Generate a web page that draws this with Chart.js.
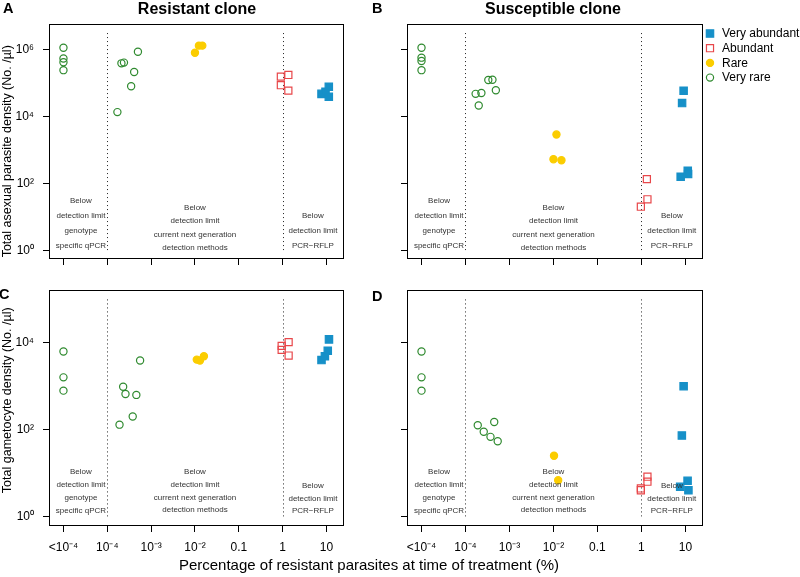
<!DOCTYPE html>
<html>
<head>
<meta charset="utf-8">
<script src="https://cdn.jsdelivr.net/npm/chart.js@4.4.0/dist/chart.umd.min.js"></script>
<style>
  body { margin: 0; background: #fff; }
  #wrap { position: relative; width: 800px; height: 577px; overflow: hidden; font-family: 'Liberation Sans', Arial, sans-serif; }
  canvas { position: absolute; }
  .lbl { position: absolute; white-space: nowrap; color: #000; line-height: 1; }
  .letter { font-weight: bold; font-size: 14.5px; }
  .coltitle { font-weight: bold; font-size: 16px; width: 300px; text-align: center; }
  .ytitle { font-size: 12.5px; width: 300px; text-align: center; transform: rotate(-90deg); }
  .xtitle { font-size: 15px; width: 500px; text-align: center; }
</style>
</head>
<body>
<div id="wrap">
  <canvas id="panelA" width="400" height="280" style="left:0;top:0"></canvas>
  <canvas id="panelB" width="400" height="280" style="left:400px;top:0"></canvas>
  <canvas id="panelC" width="400" height="297" style="left:0;top:280px"></canvas>
  <canvas id="panelD" width="400" height="297" style="left:400px;top:280px"></canvas>

  <div class="lbl letter" style="left:3px;top:1px">A</div>
  <div class="lbl letter" style="left:372px;top:1px">B</div>
  <div class="lbl letter" style="left:-1px;top:287px">C</div>
  <div class="lbl letter" style="left:372px;top:289px">D</div>
  <div class="lbl coltitle" style="left:47px;top:1px">Resistant clone</div>
  <div class="lbl coltitle" style="left:403px;top:1px">Susceptible clone</div>
  <div class="lbl ytitle" style="left:-143px;top:145px">Total asexual parasite density (No. /µl)</div>
  <div class="lbl ytitle" style="left:-143px;top:394px">Total gametocyte density (No. /µl)</div>
  <div class="lbl xtitle" style="left:119px;top:557px">Percentage of resistant parasites at time of treatment (%)</div>
</div>

<script>
// axis ticks
const xTicks = [1e-5, 1e-4, 1e-3, 1e-2, 0.1, 1, 10];
const xTickLabels = ['<10⁻⁴', '10⁻⁴', '10⁻³', '10⁻²', '0.1', '1', '10'];
const asexualTicks = [1, 1e2, 1e4, 1e6];
const gametocyteTicks = [1, 1e2, 1e4];
const yTickLabels = { 1: '10⁰', 100: '10²', 10000: '10⁴', 1000000: '10⁶' };

const groupNames = ['Very abundant', 'Abundant', 'Rare', 'Very rare'];

// detection limit dividers and the notes under them
const detectionLimits = [1e-4, 1];
const noteX = [2.5e-5, 1e-2, 4.9];
const noteLines = [
  ['Below', 'detection limit', 'genotype', 'specific qPCR'],
  ['Below', 'detection limit', 'current next generation', 'detection methods'],
  ['Below', 'detection limit', 'PCR\u2212RFLP']
];

// A: asexual density, resistant clone  [percentage, density]
const asexResVeryAbundant = [[7.7, 4.9e4], [9.5, 5.7e4], [11.3, 8.0e4], [11.3, 4.0e4]];
const asexResAbundant = [[0.91, 1.6e5], [0.91, 8.9e4], [1.35, 1.8e5], [1.35, 6.1e4]];
const asexResRare = [[1.0e-2, 8.3e5], [1.23e-2, 1.35e6], [1.47e-2, 1.35e6]];
const asexResVeryRare = [[1e-5, 1.17e6], [1e-5, 5.6e5], [1e-5, 4.3e5], [1e-5, 2.5e5],
  [1.7e-4, 1.4e4], [2.1e-4, 4.0e5], [2.4e-4, 4.2e5], [3.5e-4, 8.3e4], [4.1e-4, 2.2e5], [5.0e-4, 8.9e5]];

// B: asexual density, susceptible clone
const asexSusVeryAbundant = [[9.1, 6.1e4], [8.4, 2.6e4], [7.8, 165], [11.3, 250], [11.5, 200]];
const asexSusAbundant = [[0.97, 21], [1.37, 35], [1.33, 140]];
const asexSusRare = [[1.17e-2, 3.0e3], [1.0e-2, 550], [1.52e-2, 510]];
const asexSusVeryRare = [[1e-5, 1.17e6], [1e-5, 5.9e5], [1e-5, 4.7e5], [1e-5, 2.5e5],
  [1.7e-4, 4.9e4], [2.0e-4, 2.2e4], [2.3e-4, 5.2e4], [3.3e-4, 1.27e5], [4.1e-4, 1.3e5], [4.9e-4, 6.3e4]];

// C: gametocyte density, resistant clone
const gamResVeryAbundant = [[7.7, 4.0e3], [9.2, 4.9e3], [10.7, 6.6e3], [11.4, 1.2e4]];
const gamResAbundant = [[0.95, 8.5e3], [0.95, 6.9e3], [1.37, 1.04e4], [1.37, 5.1e3]];
const gamResRare = [[1.1e-2, 4.1e3], [1.3e-2, 3.9e3], [1.6e-2, 4.9e3]];
const gamResVeryRare = [[1e-5, 6.3e3], [1e-5, 1.6e3], [1e-5, 790],
  [1.9e-4, 130], [2.3e-4, 970], [2.6e-4, 660], [3.8e-4, 200], [4.6e-4, 630], [5.6e-4, 3.9e3]];

// D: gametocyte density, susceptible clone
const gamSusVeryAbundant = [[9.1, 1.0e3], [8.3, 73], [11.2, 6.6], [7.6, 4.8], [11.7, 4.0]];
const gamSusAbundant = [[1.37, 8.2], [1.37, 6.3], [0.97, 4.4], [0.97, 4.0]];
const gamSusRare = [[1.03e-2, 25], [1.28e-2, 6.8]];
const gamSusVeryRare = [[1e-5, 6.3e3], [1e-5, 1.6e3], [1e-5, 790],
  [1.9e-4, 126], [2.6e-4, 89], [3.7e-4, 68], [4.5e-4, 150], [5.4e-4, 54]];

const groupStyles = [
  { color: '#1690c8', pointStyle: 'rect', radius: 5.2, filled: true },
  { color: '#e8474a', pointStyle: 'rect', radius: 5, filled: false },
  { color: '#fbcd00', pointStyle: 'circle', radius: 3.6, filled: true },
  { color: '#2f8a2f', pointStyle: 'circle', radius: 3.6, filled: false }
];

const FONT = "'Liberation Sans', Arial, sans-serif";

// box, dotted dividers and the text notes
const panelDecor = {
  id: 'panelDecor',
  beforeDatasetsDraw(chart, args, o) {
    const { ctx, scales: { x, y } } = chart;
    ctx.save();
    ctx.strokeStyle = '#222';
    ctx.lineWidth = 1;
    ctx.setLineDash([1, 3]);
    detectionLimits.forEach(v => {
      const px = Math.round(x.getPixelForValue(v)) + 0.5;
      ctx.beginPath();
      ctx.moveTo(px, y.getPixelForValue(o.dividerTop));
      ctx.lineTo(px, y.getPixelForValue(1));
      ctx.stroke();
    });
    ctx.restore();
  },
  afterDatasetsDraw(chart, args, o) {
    const { ctx, chartArea: a, scales: { x } } = chart;
    ctx.save();
    ctx.font = '8px ' + FONT;
    ctx.fillStyle = '#333';
    ctx.textAlign = 'center';
    ctx.textBaseline = 'middle';
    noteLines.forEach((lines, i) => {
      const px = x.getPixelForValue(noteX[i]);
      const last = a.bottom + o.noteBottom[i];
      lines.forEach((t, j) => {
        ctx.fillText(t, px, last - (lines.length - 1 - j) * o.noteStep[i]);
      });
    });
    ctx.strokeStyle = '#000';
    ctx.lineWidth = 1;
    ctx.strokeRect(Math.round(a.left) + 0.5, Math.round(a.top) + 0.5,
      Math.round(a.width) - 1, Math.round(a.height) - 1);
    ctx.restore();
  }
};

const groupLegend = {
  id: 'groupLegend',
  afterDraw(chart, args, o) {
    if (!o.show) return;
    const { ctx } = chart;
    ctx.save();
    chart.data.datasets.forEach((ds, i) => {
      const yy = o.y + i * o.step;
      ctx.fillStyle = ds.backgroundColor;
      ctx.strokeStyle = ds.borderColor;
      ctx.lineWidth = ds.borderWidth;
      Chart.helpers.drawPoint(ctx, {
        pointStyle: ds.pointStyle, radius: ds.pointRadius, rotation: 0, borderWidth: ds.borderWidth
      }, o.x, yy);
      ctx.fillStyle = '#000';
      ctx.font = '12px ' + FONT;
      ctx.textAlign = 'left';
      ctx.textBaseline = 'middle';
      ctx.fillText(ds.label, o.x + 12, yy + 0.5);
    });
    ctx.restore();
  }
};

function makePanel(id, groups, p) {
  const datasets = groups.map((pts, i) => {
    const s = groupStyles[i];
    return {
      label: groupNames[i],
      data: pts.map(d => ({ x: d[0], y: d[1] })),
      pointStyle: s.pointStyle,
      pointRadius: s.radius,
      pointHoverRadius: s.radius,
      borderColor: s.color,
      backgroundColor: s.filled ? s.color : 'rgba(0,0,0,0)',
      borderWidth: 1.2,
      showLine: false
    };
  });

  return new Chart(document.getElementById(id), {
    type: 'scatter',
    data: { datasets },
    options: {
      responsive: false,
      animation: false,
      devicePixelRatio: 1,
      layout: { padding: { top: p.top, right: p.right, left: 0, bottom: 0 } },
      plugins: {
        legend: { display: false },
        tooltip: { enabled: false },
        panelDecor: { dividerTop: p.dividerTop, noteBottom: p.noteBottom, noteStep: p.noteStep },
        groupLegend: { show: !!p.legend, x: 310, y: 33.5, step: 14.7 }
      },
      scales: {
        x: {
          type: 'logarithmic',
          min: 4.68e-6,
          max: 25.1,
          afterBuildTicks: s => { s.ticks = xTicks.map(v => ({ value: v })); },
          afterFit: s => { s.height = p.xHeight; s.paddingLeft = 0; s.paddingRight = 0; },
          grid: { display: true, drawOnChartArea: false, drawTicks: true, tickLength: 6, color: '#000' },
          border: { display: false },
          ticks: {
            display: p.xLabels,
            autoSkip: false,
            maxRotation: 0,
            padding: 8,
            color: '#000',
            font: { family: FONT, size: 12 },
            callback: (v, i) => xTickLabels[i]
          }
        },
        y: {
          type: 'logarithmic',
          min: p.yMin,
          max: p.yMax,
          afterBuildTicks: s => { s.ticks = p.yTicks.map(v => ({ value: v })); },
          afterFit: s => { s.width = p.yWidth; s.paddingTop = 0; s.paddingBottom = 0; },
          grid: { display: true, drawOnChartArea: false, drawTicks: true, tickLength: 6, color: '#000' },
          border: { display: false },
          ticks: {
            display: p.yLabels,
            autoSkip: false,
            padding: 9,
            color: '#000',
            font: { family: FONT, size: 12 },
            callback: v => yTickLabels[v]
          }
        }
      }
    },
    plugins: [panelDecor, groupLegend]
  });
}

const topPanel = {
  top: 24, xHeight: 21, xLabels: false, yMin: 0.577, yMax: 5.97e6, yTicks: asexualTicks,
  dividerTop: 3.2e6, noteBottom: [-13, -11, -13], noteStep: [15, 13.5, 15]
};
const bottomPanel = {
  top: 10, xHeight: 51, xLabels: true, yMin: 0.62, yMax: 1.65e5, yTicks: gametocyteTicks,
  dividerTop: 1e5, noteBottom: [-15, -16, -15], noteStep: [13, 12.7, 12.5]
};

makePanel('panelA', [asexResVeryAbundant, asexResAbundant, asexResRare, asexResVeryRare],
  Object.assign({}, topPanel, { right: 56, yWidth: 49, yLabels: true }));
makePanel('panelB', [asexSusVeryAbundant, asexSusAbundant, asexSusRare, asexSusVeryRare],
  Object.assign({}, topPanel, { right: 97, yWidth: 7, yLabels: false, legend: true }));
makePanel('panelC', [gamResVeryAbundant, gamResAbundant, gamResRare, gamResVeryRare],
  Object.assign({}, bottomPanel, { right: 56, yWidth: 49, yLabels: true }));
makePanel('panelD', [gamSusVeryAbundant, gamSusAbundant, gamSusRare, gamSusVeryRare],
  Object.assign({}, bottomPanel, { right: 97, yWidth: 7, yLabels: false }));
</script>
</body>
</html>
